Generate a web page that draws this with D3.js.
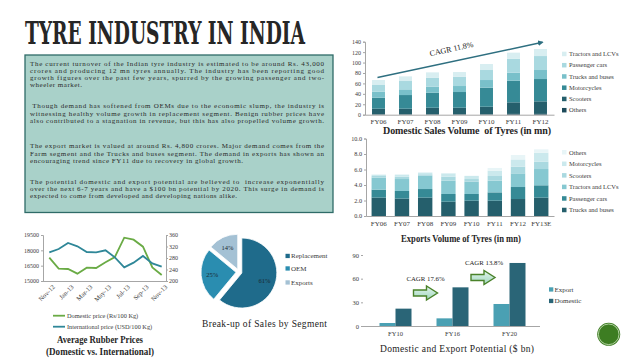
<!DOCTYPE html>
<html><head><meta charset="utf-8">
<script src="https://cdn.jsdelivr.net/npm/d3@7"></script>
<style>html,body{margin:0;padding:0;background:#fff;}svg{display:block;font-family:"Liberation Serif",serif;}</style>
</head><body><svg id="c" width="638" height="359"></svg>
<script>
// ---------- DATA ----------
const domYears = ["FY06","FY07","FY08","FY09","FY10","FY11","FY12"];
const domOthers = [1,1,1,1,1,1.5,1.5];
const domScooters = [10.5,10.5,12.4,12.4,14.3,22.2,24.1];
const domMotorcycles = [21.1,26.2,28.8,30.1,36.5,41.5,42.8];
const domTrucks = [11.4,10.9,11.5,11.5,14.7,15.4,17.3];
const domPassenger = [13,16,17.3,17.9,19.2,26.8,26.8];
const domTractors = [9.5,8.9,10.2,8.9,11.5,11.6,13.5];
const domTicks = [0,20,40,60,80,100,120,140];

const expYears = ["FY06","FY07","FY08","FY09","FY10","FY11","FY12","FY13E"];
const expTrucks = [2.37,2.24,2.37,1.85,1.98,1.98,2.19,2.37];
const expPassenger = [1.03,0.99,1.11,0.99,0.86,1.07,1.55,1.59];
const expTractors = [1.55,1.54,1.72,1.72,1.59,1.51,1.76,2.10];
const expScooters = [0.21,0.30,0.18,0.51,0.34,0.60,0.87,0.94];
const expMotorcycles = [0.17,0.22,0.22,0.43,0.39,0.69,0.93,1.17];
const expOthers = [0.05,0.11,0.05,0.05,0.04,0.35,0.57,0.43];
const expTicks = [0,2,4,6,8,10];

const months = ["Nov-12","Dec-12","Jan-13","Feb-13","Mar-13","Apr-13","May-13","Jun-13","Jul-13","Aug-13","Sep-13","Oct-13","Nov-13"];
const monthLabels = ["Nov-12","Jan-13","Mar-13","May-13","Jul-13","Sep-13","Nov-13"];
const domesticPrice = [17283,16207,16174,15717,16304,16272,16826,17348,19239,19043,18359,16337,15587];
const intlPrice = [299.7,311.3,332.2,320.6,300.9,299.7,306.7,282.3,247.5,263.8,287,261.4,249.9];
const leftTicks = [15000,16500,18000,19500];
const rightTicks = [200,240,280,320,360];

const pieLabels = ["Replacement","OEM","Exports"];
const pieValues = [61,25,14];

const potYears = ["FY10","FY16","FY20"];
const potExport = [3.8,9.7,27.9];
const potDomestic = [22,49,79.9];
const potTicks = [0,30,60,90];

const bodyText = [
 ["The current turnover of the Indian tyre industry is estimated to be around Rs. 43,000",
  "crores and producing 12 mn tyres annually. The industry has been reporting good",
  "growth figures over the past few years, spurred by the growing passenger and two-",
  "wheeler market."],
 [" Though demand has softened from OEMs due to the economic slump, the industry is",
  "witnessing healthy volume growth in replacement segment. Benign rubber prices have",
  "also contributed to a stagnation in revenue, but this has also propelled volume growth."],
 ["The export market is valued at around Rs. 4,800 crores. Major demand comes from the",
  "Farm segment and the Trucks and buses segment. The demand in exports has shown an",
  "encouraging trend since FY11 due to recovery in global growth."],
 ["The potential domestic and export potential are believed to  increase exponentially",
  "over the next 6-7 years and have a $100 bn potential by 2020. This surge in demand is",
  "expected to come from developed and developing nations alike."]
];

// ---------- DRAW ----------
const svg = d3.select("#c");
const txt = "#3a3a3a";
const axisCol = "#a6a6a6";
const defs = svg.append("defs");

// horizontally fit a text to a width by scaling (keeps its real box honest)
function fit(t, x, y, w){
  t.attr("x",0).attr("y",0);
  const n = t.node().getComputedTextLength();
  t.attr("transform",`translate(${x},${y}) scale(${w/n},1)`);
  return t;
}

// Title
fit(svg.append("text")
  .attr("font-family","'DejaVu Serif Condensed','DejaVu Serif',serif").attr("font-weight","bold")
  .attr("font-size",31).attr("fill","#262626")
  .text("TYRE INDUSTRY IN INDIA"), 25, 43.5, 280);

// Text box
svg.append("rect").attr("x",25).attr("y",55).attr("width",308).attr("height",157.5)
  .attr("fill","#a9d1c9").attr("stroke","#2f6b68").attr("stroke-width",1.3);
const paraY = [[65.5,72.8,80.1,87.4],[108.3,115.6,122.9],[148.2,155.5,162.8],[183.6,190.9,198.2]];
const lastLen = [[0,0,0,52],[0,0,294],[0,0,213],[0,0,207]];
bodyText.forEach((p,pi)=>{
  p.forEach((line,li)=>{
    const t = svg.append("text").attr("x",30).attr("y",paraY[pi][li])
      .attr("font-size",7).attr("fill","#2a2a2a").attr("xml:space","preserve").text(line);
    const L = li < p.length-1 ? 294 : lastLen[pi][li];
    if(L) t.attr("textLength",L).attr("lengthAdjust","spacing");
  });
});

// ---- Domestic stacked chart ----
{
  const keys = ["Others","Scooters","Motorcycles","Trucks and buses","Passenger cars","Tractors and LCVs"];
  const series = [domOthers,domScooters,domMotorcycles,domTrucks,domPassenger,domTractors];
  const colors = ["#1d4a5a","#255f6c","#368a96","#79c0ca","#a9d9e0","#d8eef1"];
  const rows = domYears.map((y,i)=>{const o={year:y}; keys.forEach((k,j)=>o[k]=series[j][i]); return o;});
  const stack = d3.stack().keys(keys)(rows);
  const x = d3.scaleBand().domain(domYears).range([365,554]).paddingInner(0.52).paddingOuter(0.26);
  const y = d3.scaleLinear().domain([0,140]).range([114.7,41.7]);
  const g = svg.append("g");
  stack.forEach((s,j)=>{
    g.selectAll(null).data(s).enter().append("rect")
      .attr("x",d=>x(d.data.year)).attr("width",x.bandwidth())
      .attr("y",d=>y(d[1])).attr("height",d=>y(d[0])-y(d[1])).attr("fill",colors[j]);
  });
  const ya = g.append("g").attr("transform","translate(365,0)").call(d3.axisLeft(y).tickValues(domTicks).tickSize(2).tickPadding(2));
  const xa = g.append("g").attr("transform","translate(0,114.7)").call(d3.axisBottom(x).tickSize(0).tickPadding(4));
  [ya,xa].forEach(a=>{a.selectAll("path,line").attr("stroke",axisCol); a.selectAll("text").attr("font-family","Liberation Serif").attr("font-size",6).attr("fill",txt);});
  xa.selectAll("text").attr("font-size",7);
  defs.append("marker").attr("id","ah").attr("viewBox","0 0 10 10").attr("refX",8).attr("refY",5)
    .attr("markerWidth",4).attr("markerHeight",4).attr("orient","auto")
    .append("path").attr("d","M0,0 L10,5 L0,10 z").attr("fill","#2e6f80");
  svg.append("line").attr("x1",x("FY06")+x.bandwidth()/2-1).attr("y1",77.5).attr("x2",542.5).attr("y2",42.3)
    .attr("stroke","#2e6f80").attr("stroke-width",1.4).attr("marker-end","url(#ah)");
  svg.append("text").attr("transform","translate(452,51.5) rotate(-12.3)").attr("text-anchor","middle")
    .attr("font-size",8).attr("fill","#222").text("CAGR 11.8%");
  const lg = [...keys].reverse(); const lc=[...colors].reverse();
  lg.forEach((k,i)=>{
    const yy = 54 + i*11.25;
    svg.append("rect").attr("x",562).attr("y",yy-2.3).attr("width",4.5).attr("height",4.5).attr("fill",lc[i]);
    svg.append("text").attr("x",569).attr("y",yy+2.2).attr("font-size",6.5).attr("fill",txt).text(k);
  });
  svg.append("text").attr("x",467).attr("y",134).attr("text-anchor","middle").attr("font-size",10).attr("font-weight","bold")
    .attr("fill","#262626").attr("textLength",168).attr("lengthAdjust","spacing").attr("xml:space","preserve").text("Domestic Sales Volume  of Tyres (in mn)");
}

// ---- Export stacked chart ----
{
  const keys = ["Trucks and buses","Passenger cars","Tractors and LCVs","Scooters","Motorcycles","Others"];
  const series = [expTrucks,expPassenger,expTractors,expScooters,expMotorcycles,expOthers];
  const colors = ["#255f6c","#368a96","#86c8d1","#aad9e0","#cbe9ed","#e8f5f7"];
  const rows = expYears.map((y,i)=>{const o={year:y}; keys.forEach((k,j)=>o[k]=series[j][i]); return o;});
  const stack = d3.stack().keys(keys)(rows);
  const x = d3.scaleBand().domain(expYears).range([366,554]).paddingInner(0.38).paddingOuter(0.24);
  const y = d3.scaleLinear().domain([0,10]).range([216,138.5]);
  const g = svg.append("g");
  stack.forEach((s,j)=>{
    g.selectAll(null).data(s).enter().append("rect")
      .attr("x",d=>x(d.data.year)).attr("width",x.bandwidth())
      .attr("y",d=>y(d[1])).attr("height",d=>y(d[0])-y(d[1])).attr("fill",colors[j]);
  });
  const ya = g.append("g").attr("transform","translate(366,0)").call(d3.axisLeft(y).tickValues(expTicks).tickFormat(d3.format(".1f")).tickSize(2).tickPadding(2));
  const xa = g.append("g").attr("transform","translate(0,216)").call(d3.axisBottom(x).tickSize(0).tickPadding(5));
  [ya,xa].forEach(a=>{a.selectAll("path,line").attr("stroke",axisCol); a.selectAll("text").attr("font-family","Liberation Serif").attr("font-size",6.2).attr("fill",txt);});
  xa.selectAll("text").attr("font-size",7);
  const lg=[...keys].reverse(), lc=[...colors].reverse();
  lg.forEach((k,i)=>{
    const yy = 152.3 + i*11.55;
    svg.append("rect").attr("x",562).attr("y",yy-2.3).attr("width",4.5).attr("height",4.5).attr("fill",lc[i]);
    svg.append("text").attr("x",569).attr("y",yy+2.2).attr("font-size",6.5).attr("fill",txt).text(k);
  });
  fit(svg.append("text").attr("text-anchor","middle").attr("font-size",10).attr("font-weight","bold")
    .attr("fill","#262626").text("Exports Volume of Tyres (in mn)"), 461, 242, 120);
}

// ---- Rubber price line chart ----
{
  const x = d3.scalePoint().domain(months).range([49.3,161.7]);
  const yl = d3.scaleLinear().domain([15000,19500]).range([281,235]);
  const yr = d3.scaleLinear().domain([200,360]).range([281,235]);
  const g = svg.append("g");
  g.append("path").datum(domesticPrice).attr("fill","none").attr("stroke","#6aab45").attr("stroke-width",1.8)
    .attr("d",d3.line().x((d,i)=>x(months[i])).y(d=>yl(d)));
  g.append("path").datum(intlPrice).attr("fill","none").attr("stroke","#2f8798").attr("stroke-width",1.8)
    .attr("d",d3.line().x((d,i)=>x(months[i])).y(d=>yr(d)));
  const la = g.append("g").attr("transform","translate(43,0)").call(d3.axisLeft(yl).tickValues(leftTicks).tickSize(2).tickPadding(2).tickFormat(d3.format("d")));
  const ra = g.append("g").attr("transform","translate(166,0)").call(d3.axisRight(yr).tickValues(rightTicks).tickSize(2).tickPadding(1));
  const xa = g.append("g").attr("transform","translate(0,281)").call(d3.axisBottom(x).tickValues(monthLabels).tickSize(0).tickPadding(3));
  [la,ra,xa].forEach(a=>{a.selectAll("path,line").attr("stroke",axisCol); a.selectAll("text").attr("font-family","Liberation Serif").attr("font-size",6).attr("fill",txt);});
  xa.select(".domain").attr("d","M43,0.5H166");
  xa.selectAll("text").attr("font-size",6.5).attr("text-anchor","end").attr("dy","0.3em")
    .attr("transform","translate(2,3) rotate(-45)");
  [["Domestic price (Rs/100 Kg)","#6aab45",315.7],["International price (USD/100 Kg)","#2f8798",326.7]].forEach(([t,c,yy])=>{
    svg.append("line").attr("x1",53).attr("x2",65).attr("y1",yy).attr("y2",yy).attr("stroke",c).attr("stroke-width",1.8);
    svg.append("text").attr("x",67).attr("y",yy+2).attr("font-size",6.3).attr("fill",txt).text(t);
  });
  fit(svg.append("text").attr("text-anchor","middle").attr("font-size",10).attr("font-weight","bold").attr("fill","#262626")
    .text("Average Rubber Prices"), 100, 343, 86);
  fit(svg.append("text").attr("text-anchor","middle").attr("font-size",10).attr("font-weight","bold").attr("fill","#262626")
    .text("(Domestic vs. International)"), 100, 354.5, 108);
}

// ---- Pie ----
{
  const cx=239, cy=272, r=35, ex=3;
  const colors = ["#1f6b8b","#2a8db0","#a4c1d4"];
  const arcs = d3.pie().sort(null)(pieValues);
  const arc = d3.arc().innerRadius(0).outerRadius(r);
  const lab = d3.arc().innerRadius(24).outerRadius(24);
  const g = svg.append("g").attr("transform",`translate(${cx},${cy})`);
  arcs.forEach((a,i)=>{
    const m=(a.startAngle+a.endAngle)/2, dx=ex*Math.sin(m), dy=-ex*Math.cos(m);
    const s = g.append("g").attr("transform",`translate(${dx},${dy})`);
    s.append("path").attr("d",arc(a)).attr("fill",colors[i]).attr("stroke","#fff").attr("stroke-width",0.8);
    const c=lab.centroid(a);
    s.append("text").attr("x",c[0]).attr("y",c[1]+2.2).attr("text-anchor","middle").attr("font-size",6.5).attr("fill","#1a2a30").text(pieValues[i]+"%");
  });
  pieLabels.forEach((k,i)=>{
    const yy=[256,268.5,282.5][i];
    svg.append("rect").attr("x",285.5).attr("y",yy-2.2).attr("width",4.3).attr("height",4.3).attr("fill",colors[i]);
    svg.append("text").attr("x",291).attr("y",yy+2.2).attr("font-size",7).attr("fill",txt).text(k);
  });
  svg.append("text").attr("x",264.5).attr("y",327).attr("text-anchor","middle").attr("font-size",9.5).attr("fill","#222")
    .attr("textLength",125).attr("lengthAdjust","spacing").text("Break-up of Sales by Segment");
}

// ---- Potential chart ----
{
  const x0 = d3.scaleBand().domain(potYears).range([367,538]).padding(0);
  const x1 = d3.scaleBand().domain(["Export","Domestic"]).range([0,32]);
  const y = d3.scaleLinear().domain([0,90]).range([326,255]);
  const colors = {Export:"#4aa0b3",Domestic:"#2a6577"};
  const g = svg.append("g");
  potYears.forEach((yr,i)=>{
    const base = x0(yr)+(x0.bandwidth()-32)/2;
    [["Export",potExport[i]],["Domestic",potDomestic[i]]].forEach(([k,v])=>{
      g.append("rect").attr("x",base+x1(k)).attr("width",x1.bandwidth()).attr("y",y(v)).attr("height",y(0)-y(v)).attr("fill",colors[k]);
    });
  });
  const ya = g.append("g").attr("transform","translate(363,0)").call(d3.axisLeft(y).tickValues(potTicks).tickSize(2).tickPadding(2));
  ya.select(".domain").remove();
  const xa = g.append("g").attr("transform","translate(0,326)").call(d3.axisBottom(x0).tickSize(0).tickPadding(5));
  xa.select(".domain").attr("d","M361,0.5H540");
  [ya,xa].forEach(a=>{a.selectAll("path,line").attr("stroke",axisCol); a.selectAll("text").attr("font-family","Liberation Serif").attr("font-size",6.5).attr("fill",txt);});
  ["Export","Domestic"].forEach((k,i)=>{
    const yy=[289.5,301][i];
    svg.append("rect").attr("x",549).attr("y",yy-2.2).attr("width",4.3).attr("height",4.3).attr("fill",colors[k]);
    svg.append("text").attr("x",554.5).attr("y",yy+2.2).attr("font-size",7).attr("fill",txt).text(k);
  });
  const grad = defs.append("linearGradient").attr("id","ag").attr("x1","0").attr("y1","0").attr("x2","0").attr("y2","1");
  grad.append("stop").attr("offset","0").attr("stop-color","#e4f6ee");
  grad.append("stop").attr("offset","1").attr("stop-color","#9fd6bd");
  [[413.5,286,"CAGR 17.6%",425.5,280.5],[471,270.5,"CAGR 13.8%",484,265]].forEach(([ax,ay,t,tx,ty])=>{
    const w=24,h=14,sh=4;
    svg.append("path").attr("d",`M${ax},${ay+sh} H${ax+13} V${ay} L${ax+w},${ay+h/2} L${ax+13},${ay+h} V${ay+h-sh} H${ax} Z`)
      .attr("fill","url(#ag)").attr("stroke","#4a822a").attr("stroke-width",1.4);
    svg.append("text").attr("x",tx).attr("y",ty).attr("text-anchor","middle").attr("font-size",6.8).attr("fill","#222").text(t);
  });
  svg.append("text").attr("x",457).attr("y",352).attr("text-anchor","middle").attr("font-size",9.5).attr("fill","#222")
    .attr("textLength",154).attr("lengthAdjust","spacing").text("Domestic and Export Potential ($ bn)");
}

// green circle
svg.append("circle").attr("cx",608.7).attr("cy",334.3).attr("r",11.5).attr("fill","#3d7d22");
svg.append("circle").attr("cx",608.7).attr("cy",334.3).attr("r",10.3).attr("fill","none").attr("stroke","#cfe6c2").attr("stroke-width",0.8);
</script></body></html>
